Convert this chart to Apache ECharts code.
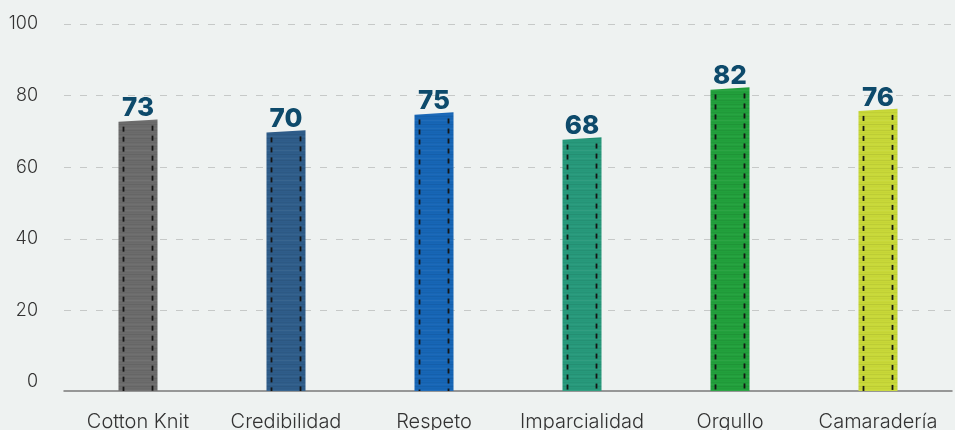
<!DOCTYPE html>
<html>
<head>
<meta charset="utf-8">
<script src="https://cdn.jsdelivr.net/npm/echarts@6/dist/echarts.min.js"></script>
<style>
  html, body { margin: 0; padding: 0; background: #eef2f1; }
  #chart { width: 955px; height: 430px; }
</style>
</head>
<body>
<div id="chart"></div>
<script>
// Survey dimensions and their scores
const categories = ['Cotton Knit', 'Credibilidad', 'Respeto', 'Imparcialidad', 'Orgullo', 'Camaradería'];
const scores = [73, 70, 75, 68, 82, 76];
const yTicks = [0, 20, 40, 60, 80, 100];
const ribbonColors = ['#6c6c6c', '#2f5d8a', '#1766b6', '#27997b', '#22a03c', '#c8d838'];

// Woven-ribbon fill: base colour with faint horizontal threads
function fabric(color) {
  const c = document.createElement('canvas');
  c.width = 8; c.height = 30;
  const g = c.getContext('2d');
  g.fillStyle = color;
  g.fillRect(0, 0, c.width, c.height);
  const shades = [0.05, 0.02, 0.07, 0.01, 0.04, 0.06, 0.02, 0.05, 0.03, 0.07, 0.01, 0.04, 0.03, 0.06, 0.02];
  for (let y = 0; y < c.height; y += 2) {
    const a = shades[(y / 2) % shades.length];
    g.fillStyle = (y % 8 === 0) ? 'rgba(255,255,255,' + a + ')' : 'rgba(0,0,0,' + a + ')';
    g.fillRect(0, y, c.width, 1);
  }
  return c;
}
const patterns = ribbonColors.map(fabric);

const AXIS_OFFSET = 9;

const chart = echarts.init(document.getElementById('chart'), null, { renderer: 'canvas' });

chart.setOption({
  backgroundColor: '#eef2f1',
  animation: false,
  grid: { left: 64, right: 3, top: 24, bottom: 48, containLabel: false, outerBoundsMode: 'none' },
  xAxis: {
    type: 'category',
    data: categories,
    offset: AXIS_OFFSET,
    axisLine: { show: true, onZero: false, lineStyle: { color: '#7a7a7a', width: 1.5 } },
    axisTick: { show: false },
    axisLabel: {
      color: '#333333', fontFamily: 'Inter', fontWeight: 300, fontSize: 20,
      margin: 21, interval: 0
    }
  },
  yAxis: {
    type: 'value',
    min: yTicks[0],
    max: yTicks[yTicks.length - 1],
    interval: yTicks[1] - yTicks[0],
    axisLine: { show: false },
    axisTick: { show: false },
    axisLabel: {
      color: '#333333', fontFamily: 'Inter', fontWeight: 300, fontSize: 18, margin: 26,
      formatter: v => (yTicks.indexOf(v) >= 0 ? String(v) : '')
    },
    splitLine: {
      show: true,
      showMinLine: false,
      lineStyle: { color: '#c6c9c8', width: 1, type: [7, 9] }
    }
  },
  series: [{
    type: 'custom',
    data: scores.map((v, i) => [i, v]),
    encode: { x: 0, y: 1 },
    renderItem: function (params, api) {
      const idx = api.value(0);
      const val = api.value(1);
      const top = api.coord([idx, val]);
      const base = api.coord([idx, 0]);
      const w = 39;
      const x0 = top[0] - w / 2;
      const x1 = top[0] + w / 2;
      const yTop = top[1];
      const yBot = base[1] + AXIS_OFFSET;
      const stitch = {
        stroke: '#141414', lineWidth: 1.8, lineDash: [5, 5], lineDashOffset: -2
      };
      return {
        type: 'group',
        children: [
          {
            type: 'polygon',
            shape: { points: [[x0, yTop + 1.2], [x1, yTop - 1.2], [x1, yBot], [x0, yBot]] },
            style: { fill: { image: patterns[params.dataIndex], repeat: 'repeat' } }
          },
          {
            type: 'line',
            shape: { x1: x0 + 5, y1: yTop + 4, x2: x0 + 5, y2: yBot },
            style: stitch
          },
          {
            type: 'line',
            shape: { x1: x1 - 5, y1: yTop + 3, x2: x1 - 5, y2: yBot },
            style: stitch
          },
          {
            type: 'text',
            x: top[0],
            y: yTop - 12,
            style: {
              text: String(val),
              align: 'center',
              verticalAlign: 'middle',
              fill: '#0d4a6b',
              font: '800 26px Inter'
            }
          }
        ]
      };
    }
  }]
});
</script>
</body>
</html>
